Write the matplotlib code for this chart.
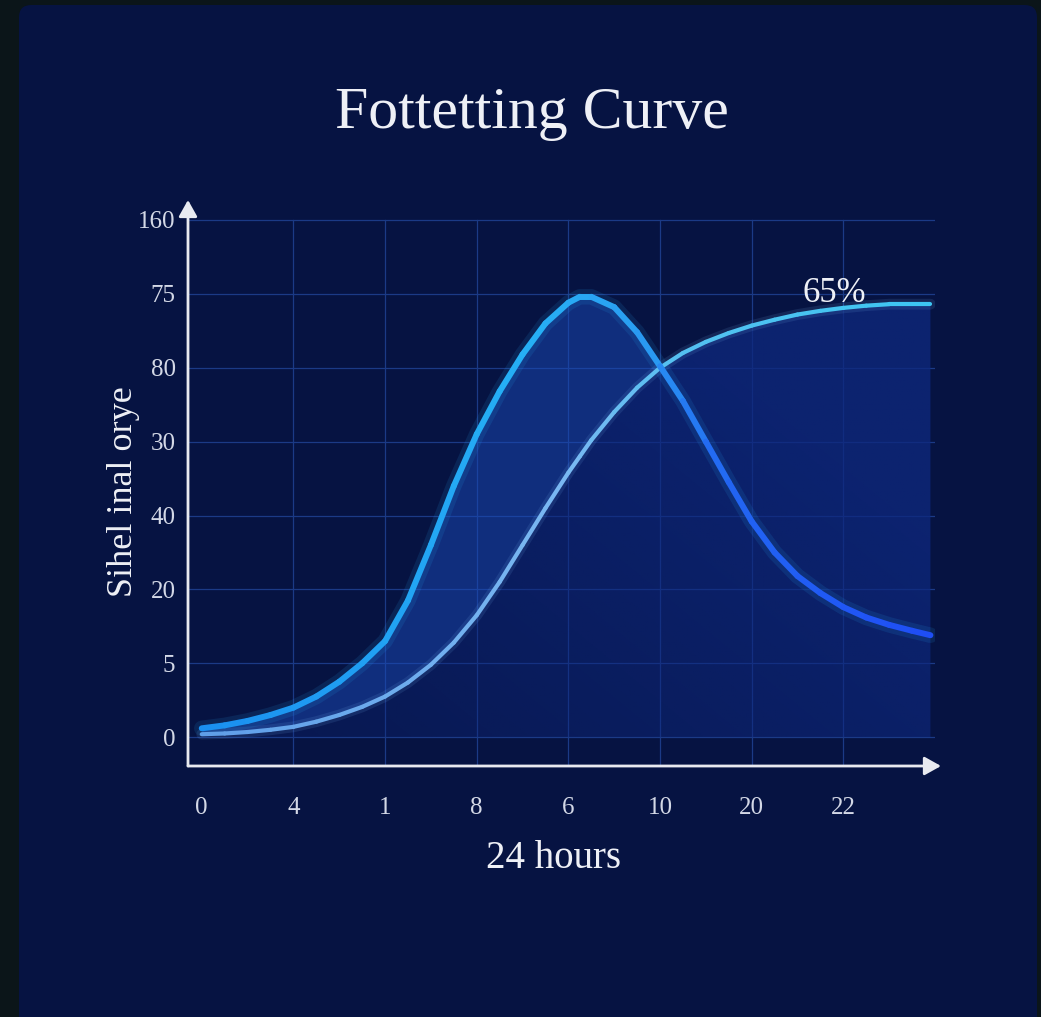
import numpy as np
import matplotlib
matplotlib.use("Agg")
import matplotlib.pyplot as plt
from matplotlib.collections import LineCollection
from matplotlib.colors import LinearSegmentedColormap, to_rgb
from matplotlib.patches import FancyBboxPatch

# data (x in tick slots, y in gridline slots)
x_labels = ["0", "4", "1", "8", "6", "10", "20", "22"]
y_labels = ["0", "5", "20", "40", "30", "80", "75", "160"]
hours = [0, 0.25, 0.5, 0.75, 1.0, 1.25, 1.5, 1.75, 2.0, 2.25, 2.5, 2.75, 3.0, 3.25,
         3.5, 3.75, 4.0, 4.125, 4.25, 4.5, 4.75, 5.0, 5.25, 5.5, 5.75, 6.0, 6.25,
         6.5, 6.75, 7.0, 7.25, 7.5, 7.75, 7.95]
bell = [0.12, 0.16, 0.22, 0.3, 0.4, 0.55, 0.75, 1.0, 1.3, 1.85, 2.6, 3.4, 4.1, 4.68,
        5.18, 5.6, 5.88, 5.96, 5.96, 5.82, 5.48, 5.02, 4.55, 4.0, 3.45, 2.92, 2.5,
        2.18, 1.95, 1.76, 1.62, 1.52, 1.44, 1.38]
sigmoid = [0.04, 0.05, 0.07, 0.1, 0.14, 0.21, 0.3, 0.41, 0.55, 0.74, 0.98, 1.28, 1.65, 2.1,
           2.6, 3.1, 3.58, 3.8, 4.02, 4.4, 4.73, 5.0, 5.2, 5.35, 5.47, 5.57, 5.65,
           5.72, 5.77, 5.81, 5.84, 5.86, 5.86, 5.86]
peak_label = "65%"

plt.rcParams["font.family"] = ["Liberation Serif", "DejaVu Serif"]

W, H = 1041, 1017
fig = plt.figure(figsize=(W / 100, H / 100), dpi=100)
fig.patch.set_facecolor("#0b1519")

panel = FancyBboxPatch((19 / W, -0.05), (1037 - 19) / W, 1.05 - 5 / H,
                       boxstyle="round,pad=0,rounding_size=0.012",
                       transform=fig.transFigure, facecolor="#061342",
                       edgecolor="none", zorder=0)
fig.add_artist(panel)

ax = fig.add_axes([188 / W, 1 - 766 / H, 747 / W, 566 / H])
ax.set_facecolor("none")

x = np.array(hours)
b = np.array(bell)
s = np.array(sigmoid)

xlim = (-0.15, 8.0)
ylim = (-0.39, 7.27)

# grid
for j in range(len(y_labels)):
    ax.plot([xlim[0], 8.0], [j, j], color="#1b3a86", lw=0.9, zorder=1)
for i in range(1, len(x_labels)):
    ax.plot([i, i], [ylim[0], 7], color="#1b3a86", lw=0.9, zorder=1)

# gradient area under the sigmoid
gh, gw = 200, 400
gx, gy = np.meshgrid(np.linspace(0, 1, gw), np.linspace(0, 1, gh))
rgba = np.zeros((gh, gw, 4))
rgba[..., :3] = to_rgb("#0e287e")
rgba[..., 3] = 0.22 + 0.55 * np.clip(0.75 * gx + 0.55 * gy, 0, 1)
under = ax.fill_between(x, s, 0, color="none", lw=0)
im = ax.imshow(rgba, extent=(x.min(), 8.0, 0, 6.0), origin="lower",
               aspect="auto", zorder=2)
im.set_clip_path(under.get_paths()[0], transform=ax.transData)

# lighter band between the two curves
ax.fill_between(x, b, s, where=b >= s, interpolate=True,
                color="#1a4ab8", alpha=0.5, lw=0, zorder=3)


def gradient_line(xv, yv, colors, lw):
    cmap = LinearSegmentedColormap.from_list("c", colors)
    ax.plot(xv, yv, color=cmap(0.5), lw=lw * 2.6, alpha=0.12,
            solid_capstyle="round", solid_joinstyle="round", zorder=4)
    pts = np.column_stack([xv, yv])
    segs = np.stack([pts[:-1], pts[1:]], axis=1)
    t = (xv[:-1] + xv[1:]) / 2 / xv.max()
    lc = LineCollection(segs, colors=cmap(t), linewidths=lw,
                        capstyle="round", joinstyle="round", zorder=5)
    ax.add_collection(lc)


gradient_line(x, s, [(0, "#5f9ee8"), (0.5, "#7ab8f2"), (0.65, "#55c0f0"), (1, "#3cc6f2")], 3.0)
gradient_line(x, b, [(0, "#1a8ff0"), (0.45, "#26b0f5"), (0.6, "#2a9ef2"),
                     (0.72, "#2266f2"), (1, "#1f4df5")], 4.3)

ax.set_xlim(*xlim)
ax.set_ylim(*ylim)
ax.set_xticks(range(len(x_labels)))
ax.set_xticklabels(x_labels)
ax.set_yticks(range(len(y_labels)))
ax.set_yticklabels(y_labels)
ax.tick_params(axis="both", length=0, colors="#d3d8e6", labelsize=18)
ax.tick_params(axis="x", pad=22)
ax.tick_params(axis="y", pad=9)
for sp in ax.spines.values():
    sp.set_visible(False)

# axes with arrow heads
arrow = dict(arrowstyle="-|>,head_length=0.5,head_width=0.28", color="#e8eaf0",
             lw=2.0, shrinkA=0, shrinkB=0, mutation_scale=20)
ax.annotate("", xy=(0, 1), xytext=(0, 0), xycoords="axes fraction",
            textcoords="axes fraction", arrowprops=arrow)
ax.annotate("", xy=(1.008, 0), xytext=(0, 0), xycoords="axes fraction",
            textcoords="axes fraction", arrowprops=arrow)

ax.text(6.9, 5.89, peak_label, ha="center", va="baseline", fontsize=25,
        color="#eef0f6", zorder=6)

fig.text(532 / W, 1 - 114 / H, "Fottetting Curve", ha="center", va="center",
         fontsize=43, color="#eef0f6")
fig.text(554 / W, 1 - 858 / H, "24 hours", ha="center", va="center",
         fontsize=28, color="#eef0f6")
fig.text(123 / W, 1 - 492 / H, "Sihel inal orye", ha="center", va="center",
         rotation=90, fontsize=26, color="#eef0f6")

fig.savefig("out.png", dpi=100, facecolor=fig.get_facecolor())
